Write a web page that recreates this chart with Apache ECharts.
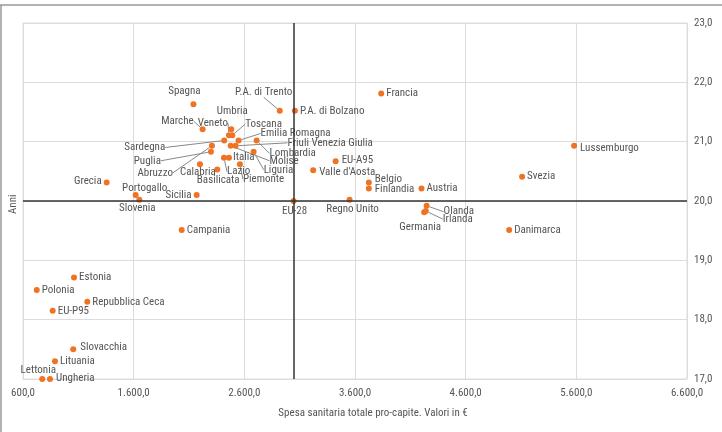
<!DOCTYPE html>
<html><head><meta charset="utf-8">
<script src="https://cdn.jsdelivr.net/npm/echarts@6/dist/echarts.min.js"></script>
<style>html,body{margin:0;padding:0;background:#fff}#c{width:722px;height:432px}</style>
</head><body><div id="c"></div>
<script>
const names = ["Spagna","P.A. di Trento","P.A. di Bolzano","Marche","Umbria","Veneto","Toscana","Sardegna","Emilia Romagna","Lombardia","Abruzzo","Puglia","Molise","Friuli Venezia Giulia","Liguria","Lazio","Italia","Piemonte","Calabria","Basilicata","Sicilia","Portogallo","Slovenia","Grecia","Campania","Francia","EU-A95","Valle d'Aosta","Belgio","Finlandia","Austria","EU-28","Regno Unito","Olanda","Irlanda","Germania","Svezia","Danimarca","Lussemburgo","Estonia","Polonia","Repubblica Ceca","EU-P95","Slovacchia","Lituania","Lettonia","Ungheria"];
const spesa = [2140,2920,3057,2223,2482,2461,2491,2418,2548,2711,2307,2298,2476,2521,2684,2416,2461,2560,2199,2355,2169,1618,1651,1356,2034,3837,3425,3222,3725,3725,4201,3045,3551,4247,4240,4225,5110,4993,5580,1061,724,1181,868,1054,889,774,844];
const anni  = [21.63,21.52,21.52,21.21,21.21,21.11,21.11,21.02,21.02,21.02,20.93,20.83,20.93,20.93,20.83,20.73,20.73,20.62,20.62,20.53,20.10,20.10,20.02,20.31,19.51,21.81,20.67,20.52,20.31,20.21,20.21,20.00,20.02,19.92,19.83,19.81,20.41,19.51,20.93,18.71,18.50,18.30,18.15,17.50,17.30,17.00,17.00];
const xTicks = [600,1600,2600,3600,4600,5600,6600];
const yTicks = [17,18,19,20,21,22,23];
const refName = "EU-28";

// label placement: [dx, dy, align] from dot centre (styling only)
const place = {
 "Spagna":[-9,-13,'center'],"Umbria":[1,-18,'center'],"Italia":[4,0,'left'],"Basilicata":[1,11,'center'],
 "Calabria":[-2,8,'center'],"Sicilia":[-5,0,'right'],"Portogallo":[9,-7,'center'],"Slovenia":[-2,8,'center'],
 "Grecia":[-5,-1,'right'],"EU-28":[1,10,'center'],"Regno Unito":[3,9,'center'],"Germania":[-4,15,'center'],
 "Lettonia":[-4,-9,'center'],"Lussemburgo":[6,2,'left'],"Slovacchia":[7,-2,'left'],"Ungheria":[6,-1,'left'],
 "EU-A95":[6,-1,'left'],"Valle d'Aosta":[6,2,'left'],"Belgio":[6,-3,'left'],"Finlandia":[6,1,'left'],
 "P.A. di Trento":[-16,-19,'center'],"Marche":[-9,-8,'right'],"Veneto":[-1,-12,'right'],"Toscana":[13,-11,'left'],
 "Emilia Romagna":[22,-7,'left'],"Friuli Venezia Giulia":[52,-3,'left'],"Lombardia":[13,13,'left'],
 "Molise":[39,15,'left'],"Liguria":[10,18,'left'],"Piemonte":[3,15,'left'],"Lazio":[3,14,'left'],
 "Abruzzo":[-39,27,'right'],"Puglia":[-50,9,'right'],"Sardegna":[-59,7,'right'],"Olanda":[17,6,'left'],"Irlanda":[17,8,'left']
};
const leaders = ["P.A. di Trento","Marche","Veneto","Toscana","Emilia Romagna","Friuli Venezia Giulia","Lombardia","Molise","Liguria","Piemonte","Lazio","Abruzzo","Puglia","Sardegna","Olanda","Irlanda"];

const fmt = v => { const s = Number(v).toFixed(1); const p = s.split('.'); return p[0].replace(/\B(?=(\d{3})+(?!\d))/g,'.') + ',' + p[1]; };
const FONT = '"Liberation Sans Narrow","Roboto Condensed","DejaVu Sans Condensed",sans-serif';
const ORANGE = '#EF7324';

const all = names.map((n,i)=>({name:n, value:[spesa[i], anni[i]]}));
const withLine = all.filter(d=>leaders.includes(d.name));
const noLine = all.filter(d=>!leaders.includes(d.name));
const refIdx = names.indexOf(refName);

function layoutFor(arr){
  return function(params){
    const d = arr[params.dataIndex];
    const p = place[d.name] || [5,0,'left'];
    const r = params.rect;
    return {x: r.x + r.width/2 + p[0], y: r.y + r.height/2 + p[1], align: p[2], verticalAlign: 'middle'};
  };
}
const lbl = {show:true, formatter:'{b}', color:'#555', fontSize:11, fontFamily:FONT};

const chart = echarts.init(document.getElementById('c'));
chart.setOption({
  animation:false,
  grid:{left:23,right:35,top:23,bottom:53,show:true,borderColor:'#dcdcdc',borderWidth:1},
  xAxis:{type:'value',min:xTicks[0],max:xTicks[xTicks.length-1],interval:xTicks[1]-xTicks[0],
    axisLine:{show:false},axisTick:{show:false},
    splitLine:{lineStyle:{color:'#dcdcdc'}},
    axisLabel:{formatter:fmt,color:'#555',fontSize:11,fontFamily:FONT,margin:9},
    name:'Spesa sanitaria totale pro-capite. Valori in €',nameLocation:'middle',nameGap:29,
    nameTextStyle:{color:'#555',fontSize:11,fontFamily:FONT,padding:[0,0,0,36]}},
  yAxis:{type:'value',position:'right',min:yTicks[0],max:yTicks[yTicks.length-1],interval:1,
    axisLine:{show:false},axisTick:{show:false},
    splitLine:{lineStyle:{color:'#dcdcdc'}},
    axisLabel:{formatter:fmt,color:'#555',fontSize:11,fontFamily:FONT,margin:7,padding:[5,0,0,0]}},
  graphic:[
    {type:'line',shape:{x1:0,y1:5,x2:722,y2:5},style:{stroke:'#999',lineWidth:1.5}},
    {type:'line',shape:{x1:1,y1:5,x2:1,y2:432},style:{stroke:'#999',lineWidth:1.5}},
    {type:'text',x:8,y:214,rotation:Math.PI/2,style:{text:'Anni',fill:'#555',font:'11px '+FONT}}
  ],
  series:[
    {type:'scatter',symbolSize:6,itemStyle:{color:ORANGE,opacity:1},data:noLine,label:lbl,
     labelLayout:layoutFor(noLine),z:3,
     markLine:{silent:true,symbol:'none',animation:false,label:{show:false},
       lineStyle:{color:'#333',width:1.5,type:'solid'},
       data:[{xAxis:spesa[refIdx]},{yAxis:anni[refIdx]}]}},
    {type:'scatter',symbolSize:6,itemStyle:{color:ORANGE,opacity:1},data:withLine,label:lbl,
     labelLayout:layoutFor(withLine),z:3,
     labelLine:{show:true,lineStyle:{color:'#888',width:1}}}
  ]
});
</script></body></html>
